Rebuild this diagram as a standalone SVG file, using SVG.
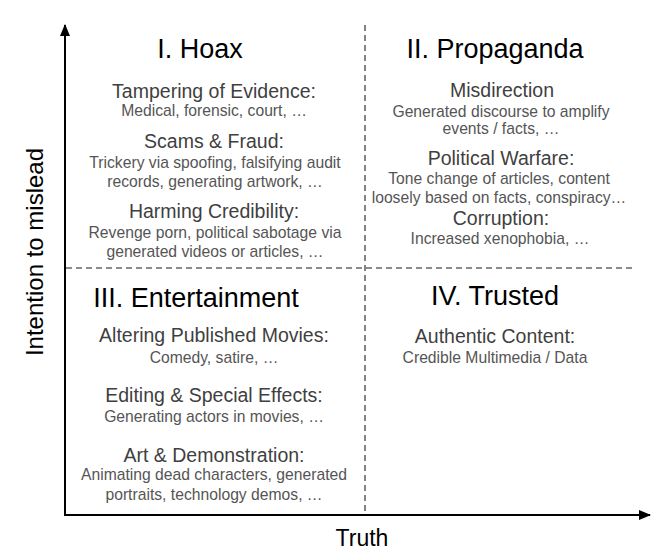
<svg xmlns="http://www.w3.org/2000/svg" width="654" height="558" viewBox="0 0 654 558">
<style>
text{font-family:"Liberation Sans",Arial,sans-serif;text-anchor:middle}
.title{font-size:27px;fill:#000}
.head{font-size:19.5px;fill:#3f3f3f}
.det{font-size:15.7px;fill:#555}
.axis{stroke:#000;stroke-width:2;fill:none}
.dash{stroke:#666;stroke-width:1.6;stroke-dasharray:6 4;fill:none}
.lab{font-size:23px;fill:#000}
</style>
<defs>
<marker id="ah" viewBox="0 0 12 10" refX="11" refY="5" markerWidth="12" markerHeight="10" markerUnits="userSpaceOnUse" orient="auto">
<path d="M0,0 L12,5 L0,10 z" fill="#000"/>
</marker>
</defs>
<rect width="654" height="558" fill="#fff"/>
<g id="connectors">
<line class="dash" x1="365" y1="25" x2="365" y2="514"/>
<line class="dash" x1="66" y1="268" x2="634" y2="268"/>
<line class="axis" x1="65" y1="516" x2="65" y2="25" marker-end="url(#ah)"/>
<line class="axis" x1="64" y1="515" x2="650" y2="515" marker-end="url(#ah)"/>
</g>
<g id="axis-labels">
<text class="lab" x="362" y="546">Truth</text>
<text class="lab" font-size="24" transform="translate(43,252) rotate(-90)" x="0" y="0" style="font-size:24px">Intention to mislead</text>
</g>
<g id="hoax">
<text class="title" x="200" y="58">I. Hoax</text>
<text class="head" x="214" y="98">Tampering of Evidence:</text>
<text class="det" x="214" y="116">Medical, forensic, court, …</text>
<text class="head" x="214" y="148">Scams &amp; Fraud:</text>
<text class="det" x="215" y="168">Trickery via spoofing, falsifying audit</text>
<text class="det" x="215" y="187">records, generating artwork, …</text>
<text class="head" x="214" y="218">Harming Credibility:</text>
<text class="det" x="215" y="238">Revenge porn, political sabotage via</text>
<text class="det" x="215" y="257">generated videos or articles, …</text>
</g>
<g id="propaganda">
<text class="title" x="495" y="58">II. Propaganda</text>
<text class="head" x="502" y="97">Misdirection</text>
<text class="det" x="501" y="117">Generated discourse to amplify</text>
<text class="det" x="501" y="134">events / facts, …</text>
<text class="head" x="501" y="165">Political Warfare:</text>
<text class="det" x="499" y="184">Tone change of articles, content</text>
<text class="det" x="499" y="203">loosely based on facts, conspiracy…</text>
<text class="head" x="501" y="225">Corruption:</text>
<text class="det" x="500" y="244">Increased xenophobia, …</text>
</g>
<g id="entertainment">
<text class="title" x="196" y="307">III. Entertainment</text>
<text class="head" x="214" y="342">Altering Published Movies:</text>
<text class="det" x="214" y="363">Comedy, satire, …</text>
<text class="head" x="214" y="402">Editing &amp; Special Effects:</text>
<text class="det" x="214" y="422">Generating actors in movies, …</text>
<text class="head" x="214" y="462">Art &amp; Demonstration:</text>
<text class="det" x="214" y="480">Animating dead characters, generated</text>
<text class="det" x="214" y="500">portraits, technology demos,  …</text>
</g>
<g id="trusted">
<text class="title" x="495" y="305">IV. Trusted</text>
<text class="head" x="495" y="343">Authentic Content:</text>
<text class="det" x="495" y="363">Credible Multimedia / Data</text>
</g>
</svg>
